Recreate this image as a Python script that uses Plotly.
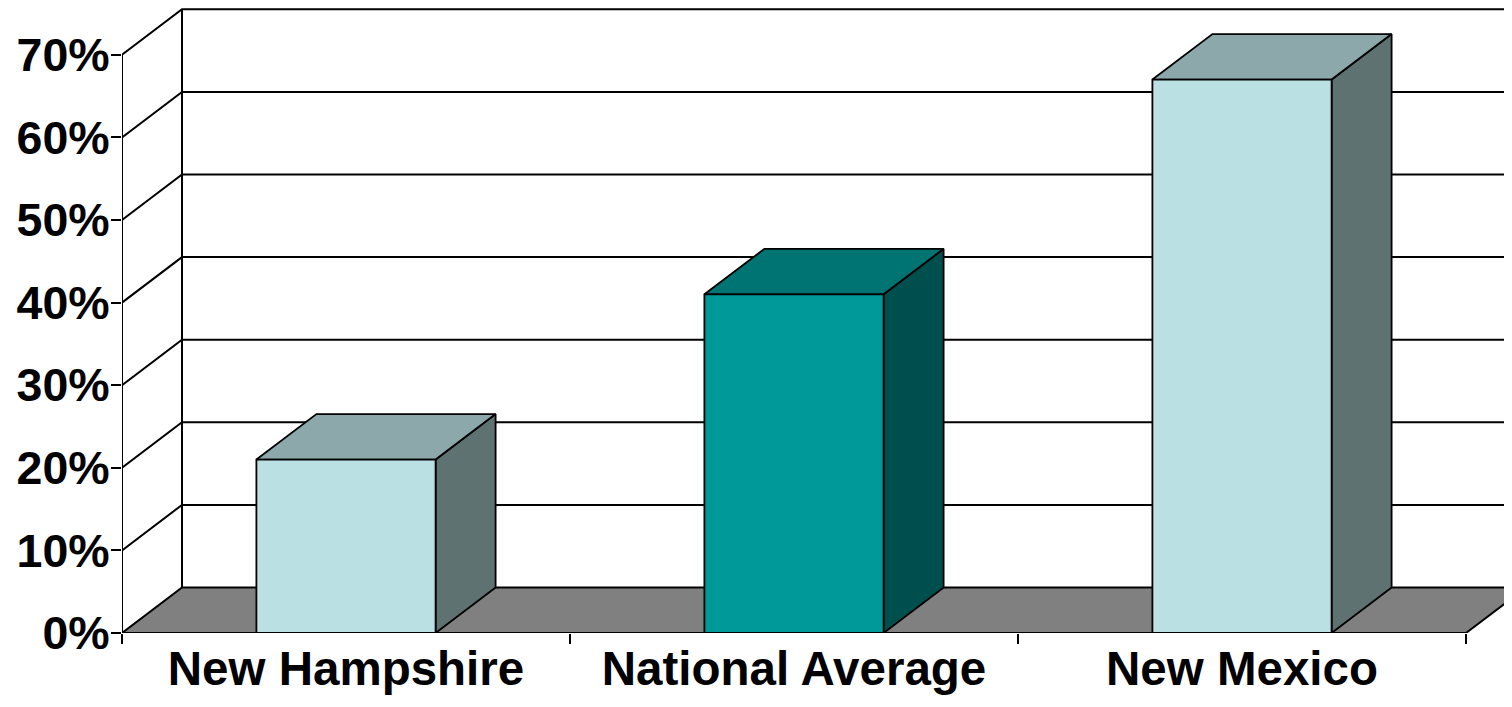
import plotly.graph_objects as go

# ---- data ----
categories = ["New Hampshire", "National Average", "New Mexico"]
values = [21, 41, 67]
y_ticks = [0, 10, 20, 30, 40, 50, 60, 70]
y_tick_labels = ["0%", "10%", "20%", "30%", "40%", "50%", "60%", "70%"]

# ---- style ----
front_colors = ["#BBE0E3", "#009999", "#BBE0E3"]
top_colors = ["#8CA8AA", "#007373", "#8CA8AA"]
side_colors = ["#5E7272", "#004F4F", "#5E7272"]
floor_color = "#808080"
FONT = "Liberation Sans, Arial, sans-serif"

# page body has an 8px margin, so the figure is drawn smaller to fit the window
W, H = 1504, 691
ML, MR, MT, MB = 114, 0, 0, 66
px_per_unit_x = 448.0
px_per_unit_y = 8.26
x0 = -0.5
x1 = x0 + len(categories)
xr = [x0, x0 + (W - ML - MR) / px_per_unit_x]
yr = [0, (H - MT - MB) / px_per_unit_y]
dx = 60 / px_per_unit_x     # depth offset (x units)
dy = 45.5 / px_per_unit_y   # depth offset (y units)
bw = 0.4                    # bar width
ymax = max(y_ticks)

fig = go.Figure()

def poly(xs, ys, fill, lw=1.8):
    fig.add_trace(go.Scatter(
        x=list(xs) + [xs[0]], y=list(ys) + [ys[0]],
        mode="lines", fill="toself", fillcolor=fill,
        line=dict(color="black", width=lw),
        hoverinfo="skip", showlegend=False))

def seg(xs, ys, lw=2):
    fig.add_trace(go.Scatter(
        x=xs, y=ys, mode="lines",
        line=dict(color="black", width=lw),
        hoverinfo="skip", showlegend=False))

# back-wall gridlines and side-wall diagonals
gx, gy = [], []
for v in y_ticks:
    if v > 0:
        gx += [x0, x0 + dx, xr[1] + dx, None]
        gy += [v, v + dy, v + dy, None]
seg(gx, gy)
# back-wall left edge
seg([x0 + dx, x0 + dx], [dy, ymax + dy])
# front value axis line
seg([x0, x0], [0, ymax])

# floor
poly([x0, x1, x1 + dx, x0 + dx], [0, 0, dy, dy], floor_color, lw=2)

# bars
for i, v in enumerate(values):
    l, r = i - bw / 2, i + bw / 2
    poly([r, r + dx, r + dx, r], [0, dy, v + dy, v], side_colors[i])
    poly([l, r, r + dx, l + dx], [v, v, v + dy, v + dy], top_colors[i])
    poly([l, r, r, l], [0, 0, v, v], front_colors[i])

fig.update_layout(
    width=W, height=H,
    margin=dict(l=ML, r=MR, t=MT, b=MB, pad=0, autoexpand=False),
    paper_bgcolor="white", plot_bgcolor="white",
    showlegend=False,
    font=dict(family=FONT, color="black"),
)
fig.update_xaxes(
    range=xr, showgrid=False, zeroline=False, showline=False,
    automargin=False,
    tickvals=list(range(len(categories))), ticktext=categories,
    ticks="outside", ticklen=0, ticklabelstandoff=-6,
    tickfont=dict(family=FONT, size=47.5, color="black", weight="bold"),
    minor=dict(ticks="outside", ticklen=10, tickwidth=2, tickcolor="black",
               tick0=0.5, dtick=1, showgrid=False),
    fixedrange=True,
)
fig.update_yaxes(
    range=yr, showgrid=False, zeroline=False, showline=False,
    automargin=False,
    tickvals=y_ticks, ticktext=y_tick_labels,
    ticks="outside", ticklen=10, tickwidth=2, tickcolor="black",
    ticklabelstandoff=-8,
    tickfont=dict(family=FONT, size=46.5, color="black", weight="bold"),
    fixedrange=True,
)

fig.write_html("out.html")
